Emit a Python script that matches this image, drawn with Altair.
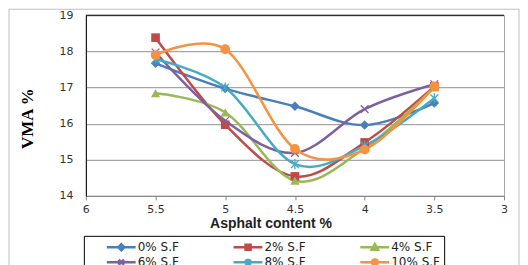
import altair as alt
import pandas as pd

# ---- data ----
asphalt = [5.5, 5.0, 4.5, 4.0, 3.5]
series_names = ["0% S.F", "2% S.F", "4% S.F", "6% S.F", "8% S.F", "10% S.F"]
vma_0 = [17.67, 16.97, 16.48, 15.96, 16.57]
vma_2 = [18.38, 15.97, 14.54, 15.48, 17.03]
vma_4 = [16.84, 16.31, 14.42, 15.32, 17.00]
vma_6 = [17.97, 16.08, 15.19, 16.40, 17.09]
vma_8 = [17.78, 17.00, 14.88, 15.39, 16.70]
vma_10 = [17.90, 18.06, 15.30, 15.28, 17.03]
x_ticks = [6, 5.5, 5, 4.5, 4, 3.5, 3]
y_ticks = [14, 15, 16, 17, 18, 19]

colors = ["#4A7EBB", "#BE4B48", "#98B954", "#7D60A0", "#46AAC5", "#F69240"]

all_vals = [vma_0, vma_2, vma_4, vma_6, vma_8, vma_10]
rows = []
for name, vals in zip(series_names, all_vals):
    for a, v in zip(asphalt, vals):
        rows.append({"series": name, "ac": a, "vma": v})
df = pd.DataFrame(rows)

cscale = alt.Scale(domain=series_names, range=colors)

x_axis = alt.Axis(values=x_ticks, format="~g", title="Asphalt content %", grid=False,
                  tickSize=4, tickColor="#868686", domainColor="#868686",
                  labelFlush=False, labelOverlap=False,
                  labelPadding=4, labelFont="DejaVu Sans", labelFontSize=11,
                  labelColor="#333333", titleFont="Liberation Sans",
                  titleFontSize=14, titleFontWeight="bold", titleColor="#222222",
                  titlePadding=2, titleX=185)
y_axis = alt.Axis(values=y_ticks, title="VMA %", grid=True, gridColor="#A6A6A6",
                  gridWidth=1.2, ticks=False, domainColor="#000000",
                  labelFlush=False, labelOverlap=False,
                  labelPadding=13, labelFont="DejaVu Sans", labelFontSize=11,
                  labelColor="#333333", titleFont="Liberation Serif",
                  titleFontSize=17, titleFontWeight="bold", titleColor="#000000",
                  titlePadding=22, titleY=103)


def X():
    return alt.X("ac:Q", scale=alt.Scale(domain=[3, 6], reverse=True, nice=False), axis=x_axis)


def Y():
    return alt.Y("vma:Q", scale=alt.Scale(domain=[14, 19], nice=False, zero=False), axis=y_axis)


def leg():
    return alt.Legend(title=None, orient="none", legendX=-2, legendY=221,
                      direction="horizontal", columns=3, columnPadding=35, rowPadding=0,
                      clipHeight=15, symbolSize=2070, symbolStrokeWidth=2.5,
                      symbolOpacity=1, labelFont="DejaVu Sans",
                      labelFontSize=12, labelColor="#222222", labelOffset=2,
                      strokeColor="#000000", padding=4)


base = alt.Chart(df)

lines = base.mark_line(interpolate="cardinal", tension=0, strokeWidth=2.5).encode(
    x=X(), y=Y(), color=alt.Color("series:N", scale=cscale),
    detail="series:N")

marker_specs = [
    ("0% S.F", "diamond", True, 90),
    ("2% S.F", "square", True, 75),
    ("4% S.F", "triangle-up", True, 85),
    ("6% S.F", "M-1,-1L1,1M-1,1L1,-1", False, 60),
    ("8% S.F", "M-1,-1L1,1M-1,1L1,-1M0,-1.3L0,1.3", False, 60),
    ("10% S.F", "circle", True, 95),
]
point_layers = []
for name, shp, filled, size in marker_specs:
    point_layers.append(
        base.transform_filter(alt.datum.series == name)
        .mark_point(shape=shp, filled=filled, size=size, opacity=1, strokeWidth=1.3)
        .encode(x=X(), y=Y(),
                color=alt.Color("series:N", scale=cscale))
    )

# legend symbols: line stub with marker
leg_shapes = [
    "M-0.22,0L1.05,0M0.42,-0.13L0.55,0L0.42,0.13L0.29,0Z",
    "M-0.22,0L1.05,0M0.31,-0.11L0.53,-0.11L0.53,0.11L0.31,0.11Z",
    "M-0.22,0L1.05,0M0.42,-0.14L0.56,0.11L0.28,0.11Z",
    "M-0.22,0L1.05,0M0.3,-0.12L0.54,0.12M0.3,0.12L0.54,-0.12",
    "M-0.22,0L1.05,0M0.3,-0.12L0.54,0.12M0.3,0.12L0.54,-0.12M0.42,-0.16L0.42,0.16",
    "M-0.22,0L1.05,0M0.3,0A0.12,0.12,0,1,0,0.54,0A0.12,0.12,0,1,0,0.3,0Z",
]

legend_layer = base.mark_point(filled=True, opacity=0).encode(
    x=X(), y=Y(),
    color=alt.Color("series:N", scale=cscale, legend=leg()),
    stroke=alt.Stroke("series:N", scale=cscale, legend=leg()),
    shape=alt.Shape("series:N", scale=alt.Scale(domain=series_names, range=leg_shapes),
                    legend=leg()),
)

top_rule = alt.Chart(pd.DataFrame({"v": [19]})).mark_rule(color="#000000", strokeWidth=1).encode(
    y=alt.Y("v:Q", scale=alt.Scale(domain=[14, 19], nice=False, zero=False), axis=y_axis))

frame = alt.Chart(pd.DataFrame({"a": [0]})).mark_rect(
    fill=None, stroke="#BFBFBF", strokeWidth=1).encode(
    x=alt.value(-77), x2=alt.value(434), y=alt.value(-6), y2=alt.value(262))

chart = alt.layer(frame, lines, *point_layers, legend_layer, top_rule).properties(
    width=419, height=181, padding=0
).configure_view(stroke="#A6A6A6", strokeWidth=1)

chart.save("out.html", embed_options={"renderer": "svg", "actions": False})
